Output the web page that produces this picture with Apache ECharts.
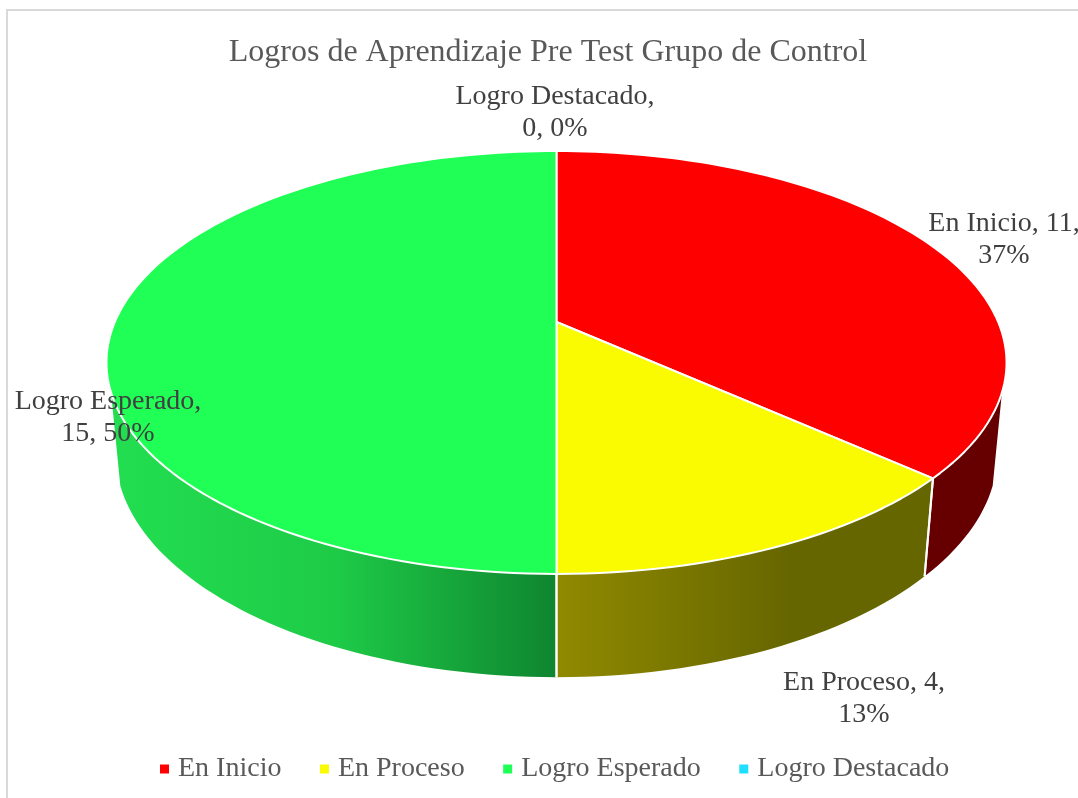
<!DOCTYPE html>
<html>
<head>
<meta charset="utf-8">
<title>Logros de Aprendizaje</title>
<script src="https://cdn.jsdelivr.net/npm/echarts@6/dist/echarts.min.js"></script>
<style>
  html, body { margin: 0; padding: 0; background: #fff; }
  #chart { width: 1078px; height: 798px; }
</style>
</head>
<body>
<div id="chart"></div>
<script>
const chartTitle = 'Logros de Aprendizaje Pre Test Grupo de Control'
const categories = ['En Inicio', 'En Proceso', 'Logro Esperado', 'Logro Destacado']
const values = [11, 4, 15, 0]

// estilos y posiciones, aparte de los datos
const topColors = ['#FF0000', '#FAFA00', '#1FFF55', '#1FDFFF']
const wallColors = [
  '#660000',
  grad(556, 790, [[0, '#908A00'], [1, '#666600']]),
  grad(115, 556, [[0, '#22DE50'], [0.5, '#1ECB47'], [1, '#0F8530']]),
  '#0C8A9E'
]
const labelCenters = [[1004, 240], [864, 699], [108, 418], [555, 113]]
const breakAfterName = [false, false, true, true]
const serif = '"Liberation Serif", "Times New Roman", serif'

function grad(x, x2, stops) {
  return {
    type: 'linear', global: true, x: x, y: 0, x2: x2, y2: 0,
    colorStops: stops.map(s => ({ offset: s[0], color: s[1] }))
  }
}

// proyeccion en perspectiva del disco: t en grados desde arriba, horario
const cam = { cx: 556.5, cy: 322, a: 441.7, b: 203.7, k: 0.1915, m: 0.0198, d: 90.5 }
// angulos donde la pared lateral deja de verse
const wallFrom = 109
const wallTo = 251

function project(t, depth) {
  const rad = t * Math.PI / 180
  const u = Math.sin(rad)
  const v = -Math.cos(rad)
  const w = 1 - cam.k * v + cam.m * depth
  return [cam.cx + cam.a * u / w, cam.cy + (cam.b * v + cam.d * depth) / w]
}
function arc(t0, t1, depth) {
  const pts = []
  const n = Math.max(2, Math.ceil(Math.abs(t1 - t0) / 1.5))
  for (let i = 0; i <= n; i++) pts.push(project(t0 + (t1 - t0) * i / n, depth))
  return pts
}

const total = values.reduce((s, v) => s + v, 0)
const startAngles = values.map((_, i) => values.slice(0, i).reduce((s, v) => s + v, 0) / total * 360)
const endAngles = values.map((v, i) => startAngles[i] + v / total * 360)

function labelText(i) {
  const pct = Math.round(values[i] / total * 100) + '%'
  return breakAfterName[i]
    ? categories[i] + ',\n' + values[i] + ', ' + pct
    : categories[i] + ', ' + values[i] + ',\n' + pct
}

function renderWalls() {
  const children = []
  values.forEach((v, i) => {
    if (!v) return
    const t0 = Math.max(startAngles[i], wallFrom)
    const t1 = Math.min(endAngles[i], wallTo)
    if (t1 > t0) {
      children.push({
        type: 'polygon',
        shape: { points: arc(t0, t1, 0).concat(arc(t1, t0, 1)) },
        style: { fill: wallColors[i] }
      })
    }
    ;[startAngles[i], endAngles[i]].forEach(t => {
      const p = project(t, 0)
      const q = project(t, 1)
      children.push({
        type: 'line',
        z2: 5,
        shape: { x1: p[0], y1: p[1], x2: q[0], y2: q[1] },
        style: { stroke: '#fff', lineWidth: 2 }
      })
    })
  })
  return { type: 'group', children: children }
}

function renderTop(i) {
  if (!values[i]) return { type: 'group', children: [] }
  return {
    type: 'polygon',
    shape: { points: [[cam.cx, cam.cy]].concat(arc(startAngles[i], endAngles[i], 0)) },
    style: { fill: topColors[i], stroke: '#fff', lineWidth: 2, lineJoin: 'round' }
  }
}

function renderLabels() {
  return {
    type: 'group',
    children: categories.map((c, i) => ({
      type: 'text',
      style: {
        x: labelCenters[i][0],
        y: labelCenters[i][1],
        text: labelText(i),
        align: 'center',
        verticalAlign: 'middle',
        font: '28px ' + serif,
        lineHeight: 32,
        fill: '#404040'
      }
    }))
  }
}

const option = {
  animation: false,
  backgroundColor: '#fff',
  title: {
    text: chartTitle,
    left: 543,
    textAlign: 'center',
    top: 32,
    textStyle: { fontFamily: serif, fontSize: 32, fontWeight: 'normal', color: '#595959' }
  },
  legend: {
    data: categories,
    left: 155,
    top: 750,
    icon: 'rect',
    itemWidth: 9,
    itemHeight: 9,
    itemGap: 38.5,
    selectedMode: false,
    textStyle: { fontFamily: serif, fontSize: 28, color: '#595959', padding: [0, 0, 0, 4] }
  },
  graphic: [{
    type: 'rect',
    silent: true,
    z: -1,
    shape: { x: 7, y: 10, width: 1300, height: 1000 },
    style: { fill: 'none', stroke: '#D9D9D9', lineWidth: 2 }
  }],
  series: [
    {
      type: 'custom', name: 'paredes', coordinateSystem: 'none', z: 2, silent: true,
      data: [[total]], renderItem: renderWalls
    },
    ...categories.map((c, i) => ({
      type: 'custom', name: c, coordinateSystem: 'none', z: 3, silent: true,
      itemStyle: { color: topColors[i] },
      data: [[values[i]]], renderItem: () => renderTop(i)
    })),
    {
      type: 'custom', name: 'etiquetas', coordinateSystem: 'none', z: 4, silent: true,
      data: [[total]], renderItem: renderLabels
    }
  ]
}

const myChart = echarts.init(document.getElementById('chart'))
myChart.setOption(option)
</script>
</body>
</html>
